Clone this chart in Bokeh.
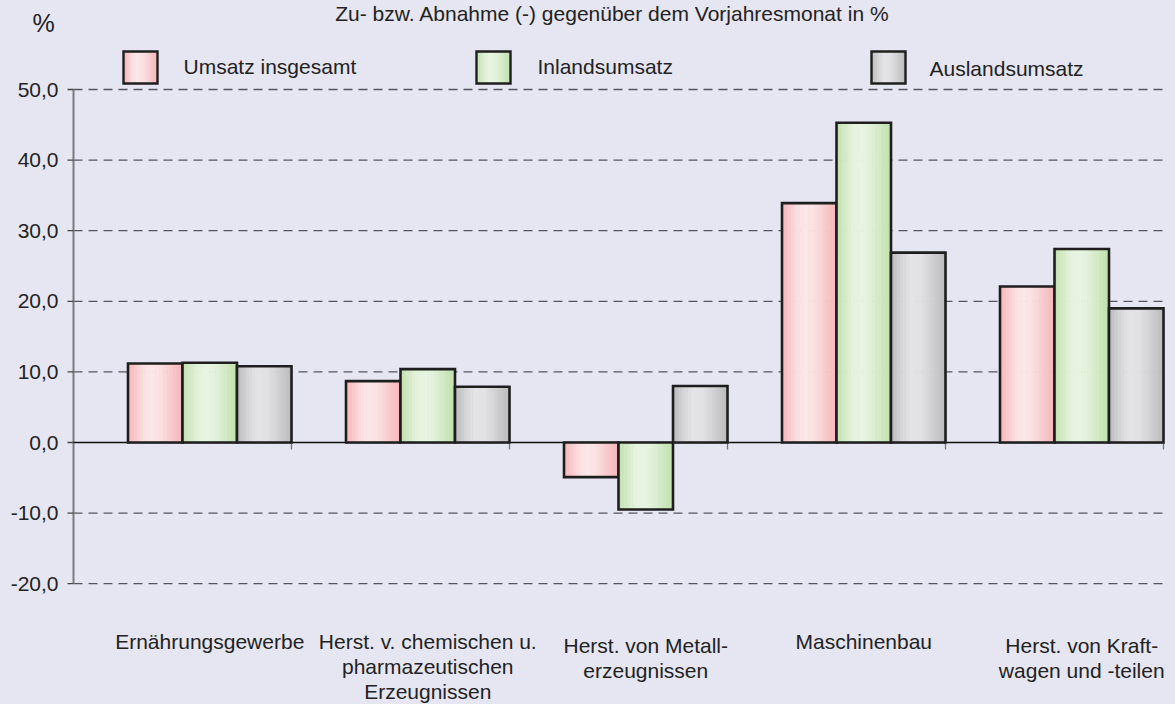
import numpy as np
from bokeh.plotting import figure
from bokeh.models import Range1d, ColumnDataSource
from bokeh.core.properties import value
from bokeh.embed import file_html
from bokeh.resources import INLINE

# ---------------- data ----------------
categories = [
    "Ernährungsgewerbe",
    "Herst. v. chemischen u.\npharmazeutischen\nErzeugnissen",
    "Herst. von Metall-\nerzeugnissen",
    "Maschinenbau",
    "Herst. von Kraft-\nwagen und -teilen",
]
series_names = ["Umsatz insgesamt", "Inlandsumsatz", "Auslandsumsatz"]
umsatz_insgesamt = [11.2, 8.7, -4.9, 33.9, 22.1]
inlandsumsatz = [11.3, 10.4, -9.5, 45.3, 27.4]
auslandsumsatz = [10.8, 7.9, 8.0, 26.9, 19.0]
y_ticks = [-20, -10, 0, 10, 20, 30, 40, 50]
y_tick_labels = ["-20,0", "-10,0", "0,0", "10,0", "20,0", "30,0", "40,0", "50,0"]
title_text = "Zu- bzw. Abnahme (-) gegenüber dem Vorjahresmonat in %"
unit_text = "%"

# ---------------- style / layout ----------------
BG = "#E6E6F2"
TXT = "#222222"
FONT = value("Liberation Sans")
FS = value("21px")
W, H = 1175, 704
X0, CAT_PX = 73, 218        # pixel of x=0, pixels per category
Y0, UNIT_PX = 442, 7.06     # pixel of y=0, pixels per unit

def dx(px):
    return (px - X0) / CAT_PX

def dy(py):
    return (Y0 - py) / UNIT_PX

edge_cols = [(246, 182, 185), (194, 225, 174), (188, 188, 190)]
peak_cols = [(252, 230, 231), (232, 244, 225), (228, 228, 230)]

def shade(t):
    c = 0.42
    if t < c:
        w = np.cos(np.pi / 2 * (c - t) / c)
    else:
        w = np.cos(np.pi / 2 * (t - c) / (1 - c))
    return w ** 1.3

def mix(a, b, w):
    return "#%02x%02x%02x" % tuple(int(round(a[i] + (b[i] - a[i]) * w)) for i in range(3))

N_STRIPS = 18

def gradient_quads(lefts, rights, bottoms, tops, s):
    L, R, B, T, C = [], [], [], [], []
    for l, r, b, t in zip(lefts, rights, bottoms, tops):
        step = (r - l) / N_STRIPS
        for k in range(N_STRIPS):
            L.append(l + k * step)
            R.append(l + (k + 1) * step)
            B.append(b)
            T.append(t)
            C.append(mix(edge_cols[s], peak_cols[s], shade((k + 0.5) / N_STRIPS)))
    return dict(left=L, right=R, bottom=B, top=T, color=C)

p = figure(
    width=W, height=H,
    x_range=Range1d(dx(0), dx(W)), y_range=Range1d(dy(H), dy(0)),
    x_axis_type=None, y_axis_type=None,
    toolbar_location=None, output_backend="svg",
    min_border=0, min_border_left=0, min_border_right=0,
    min_border_top=0, min_border_bottom=0,
    background_fill_color=BG, border_fill_color=BG, outline_line_color=None,
)

n_cat = len(categories)

# grid lines (dashed)
grid_vals = [v for v in y_ticks if v != 0]
p.segment(x0=[0] * len(grid_vals), x1=[n_cat] * len(grid_vals), y0=grid_vals, y1=grid_vals,
          line_color="#55555f", line_width=1.3, line_dash="9 6")

# y axis line, ticks and labels
p.segment(x0=[0], x1=[0], y0=[min(y_ticks)], y1=[max(y_ticks)], line_color="#7a7a80", line_width=2)
p.segment(x0=[dx(67)] * len(y_ticks), x1=[0] * len(y_ticks), y0=y_ticks, y1=y_ticks,
          line_color="#444444", line_width=1.3)
p.text(x=[dx(58)] * len(y_ticks), y=y_ticks, text=y_tick_labels, text_align="right",
       text_baseline="middle", text_font=FONT, text_font_size=FS, text_color=TXT)

# zero line and category separators
p.segment(x0=[0], x1=[n_cat], y0=[0], y1=[0], line_color="#111111", line_width=1.6)
sep = list(range(1, n_cat + 1))
p.segment(x0=sep, x1=sep, y0=[0] * len(sep), y1=[dy(Y0 + 7)] * len(sep),
          line_color="#777777", line_width=1.3)

# bars: 4 slots per category, first slot empty
all_series = [umsatz_insgesamt, inlandsumsatz, auslandsumsatz]
for s, vals in enumerate(all_series):
    lefts = [i + (s + 1) / 4 for i in range(n_cat)]
    rights = [i + (s + 2) / 4 for i in range(n_cat)]
    bottoms = [min(0, v) for v in vals]
    tops = [max(0, v) for v in vals]
    src = ColumnDataSource(gradient_quads(lefts, rights, bottoms, tops, s))
    p.quad(left="left", right="right", bottom="bottom", top="top", source=src,
           fill_color="color", line_color="color", line_width=0.6)
    p.quad(left=lefts, right=rights, bottom=bottoms, top=tops, fill_color=None,
           line_color="#1e1e1e", line_width=2.6, line_join="miter")

# category labels (one text row per line)
lx, ly, lt = [], [], []
for i, cat in enumerate(categories):
    lines = cat.split("\n")
    first = 640.5 + (4 if len(lines) == 2 else 0)
    for k, line in enumerate(lines):
        lx.append(i + 5 / 8)
        ly.append(dy(first + 25 * k))
        lt.append(line)
p.text(x=lx, y=ly, text=lt, text_align="center", text_baseline="middle",
       text_font=FONT, text_font_size=FS, text_color=TXT)

# legend (manual)
box_left_px = [123, 476, 871]
text_left_px = [183, 537, 929]
text_mid_px = [65.5, 65.5, 68.0]
for s in range(3):
    l, r = dx(box_left_px[s]), dx(box_left_px[s] + 34)
    b, t = dy(83), dy(51)
    src = ColumnDataSource(gradient_quads([l], [r], [b], [t], s))
    p.quad(left="left", right="right", bottom="bottom", top="top", source=src,
           fill_color="color", line_color="color", line_width=0.6)
    p.quad(left=[l], right=[r], bottom=[b], top=[t], fill_color=None,
           line_color="#1e1e1e", line_width=2.4, line_join="miter")
p.text(x=[dx(v) for v in text_left_px], y=[dy(v) for v in text_mid_px], text=series_names,
       text_align="left", text_baseline="middle", text_font=FONT, text_font_size=FS,
       text_color=TXT)

# title and unit
p.text(x=[dx(612)], y=[dy(13)], text=[title_text], text_align="center",
       text_baseline="middle", text_font=FONT, text_font_size=FS, text_color=TXT)
p.text(x=[dx(32)], y=[dy(22)], text=[unit_text], text_align="left",
       text_baseline="middle", text_font=FONT, text_font_size=value("25px"), text_color=TXT)

html = file_html(p, INLINE, title="Umsatz")
html = html.replace("<head>", "<head><style>html,body{margin:0;padding:0;background:%s;overflow:hidden;}</style>" % BG, 1)
open("out.html", "w").write(html)
